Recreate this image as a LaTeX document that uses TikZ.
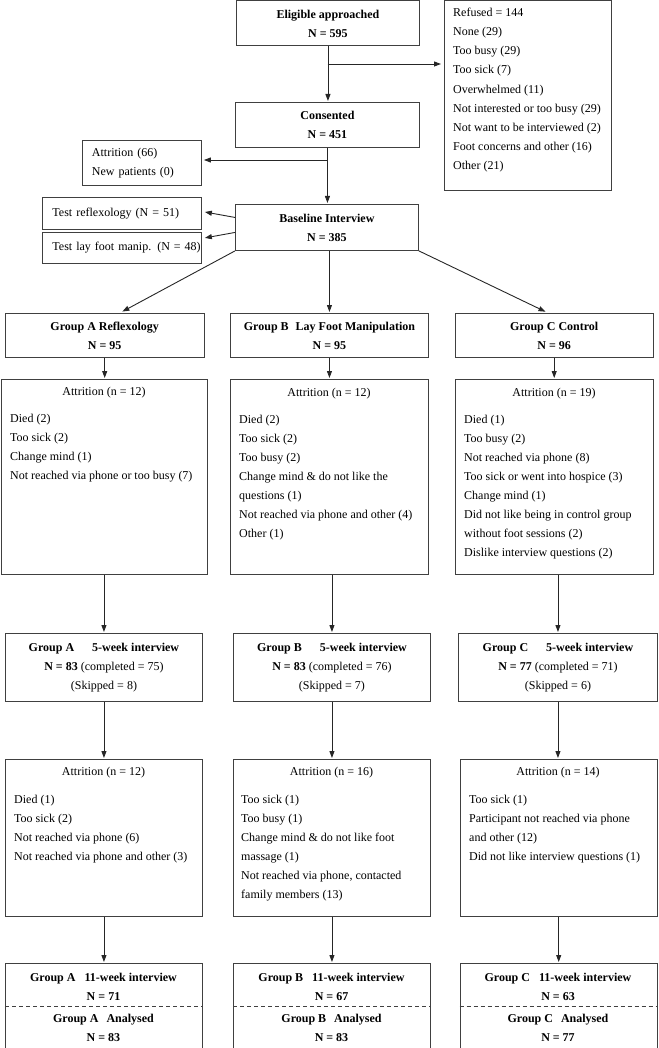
\documentclass[tikz,border=0pt]{standalone}
\usepackage{fontspec}
\setmainfont{Liberation Serif}
\usetikzlibrary{arrows.meta}

\begin{document}
\fontsize{12}{19}\selectfont
\begin{tikzpicture}[x=1pt, y=-1pt,
	box/.style={draw=black!75, line width=0.9pt, rectangle, inner sep=0pt, anchor=north west},
	hbox/.style={box, align=center, font=\bfseries},
	lst/.style={anchor=base west, inner sep=0pt},
	ttl/.style={anchor=base, inner sep=0pt},
	bt/.style={align=center, font=\bfseries, inner sep=0pt},
	arr/.style={draw=black!85, line width=0.9pt, -{Triangle[length=7pt,width=5pt]}, shorten >=1pt}]

	\useasboundingbox (0,0) rectangle (658,1048);
	\clip (0,0) rectangle (658,1048);

	% enrolment
	\node[hbox, minimum width=183, minimum height=45] (elig) at (236,0.5) {Eligible approached\\N = 595};
	\node[box, minimum width=167, minimum height=189.5] (refused) at (444,0.5) {};
	\foreach \t [count=\i from 0] in {Refused = 144, None (29), Too busy (29), Too sick (7), Overwhelmed (11),
		Not interested or too busy (29), Not want to be interviewed (2), Foot concerns and other (16), Other (21)}
		\node[lst] (rf\i) at (453,16.7+19.1*\i) {\t};

	\node[hbox, minimum width=184, minimum height=45] (cons) at (235,102) {Consented\\N = 451};
	\node[box, minimum height=45, text width=100, inner xsep=9.5pt, align=left] (attr0) at (82,140) {Attrition (66)\\New patients (0)};

	\node[hbox, minimum width=183, minimum height=46] (base) at (235,204) {Baseline Interview\\N = 385};
	\node[box, minimum height=32, text width=139, inner xsep=10pt, align=left] (testR) at (42,197) {Test reflexology (N = 51)};
	\node[box, minimum height=31, text width=139, inner xsep=10pt, align=left] (testL) at (42,232) {\mbox{Test lay foot manip. (N = 48)}};

	\coordinate (br1) at (327.5,64);
	\coordinate (br2) at (327,160);
	\draw[arr] (elig.south) -- (elig.south |- cons.north);
	\draw[arr, shorten >=3pt] (br1) -- (br1 -| refused.west);
	\draw[arr] (cons.south) -- (cons.south |- base.north);
	\draw[arr, shorten >=2pt] (br2) -- (br2 -| attr0.east);
	\draw[arr, shorten >=3pt] ([yshift=10pt]base.west) -- ([yshift=2pt]testR.east);
	\draw[arr, shorten >=3pt] ([yshift=-5pt]base.west) -- ([yshift=9.5pt]testL.east);

	% groups
	\node[hbox, minimum width=198.5, minimum height=44] (grpA) at (5,313) {Group A Reflexology\\N = 95};
	\node[hbox, minimum width=198, minimum height=44] (grpB) at (230,313) {Group B\hspace{7pt}Lay Foot Manipulation\\N = 95};
	\node[hbox, minimum width=198.5, minimum height=44] (grpC) at (454.5,313) {Group C Control\\N = 96};

	\draw[arr, shorten >=3pt] (base.south west) -- ([xshift=15pt]grpA.north);
	\draw[arr] (grpB.north |- base.south) -- (grpB.north);
	\draw[arr, shorten >=3pt] (base.south east) -- ([xshift=-6pt]grpC.north);

	% first attrition
	\node[box, minimum width=206, minimum height=195] (attA) at (1,379) {};
	\node[box, minimum width=198, minimum height=195] (attB) at (230,379) {};
	\node[box, minimum width=198, minimum height=195] (attC) at (455,379) {};
	\node[ttl] (attAh) at (104,395) {Attrition (n = 12)};
	\node[ttl] (attBh) at (329,396) {Attrition (n = 12)};
	\node[ttl] (attCh) at (554,396) {Attrition (n = 19)};
	\foreach \t [count=\i from 0] in {Died (2), Too sick (2), Change mind (1), Not reached via phone or too busy (7)}
		\node[lst] (aa\i) at (10,422+19.1*\i) {\t};
	\foreach \t [count=\i from 0] in {Died (2), Too sick (2), Too busy (2), Change mind \& do not like the,
		questions (1), Not reached via phone and other (4), Other (1)}
		\node[lst] (ab\i) at (239,423+19.1*\i) {\t};
	\foreach \t [count=\i from 0] in {Died (1), Too busy (2), Not reached via phone (8), Too sick or went into hospice (3),
		Change mind (1), Did not like being in control group, without foot sessions (2), Dislike interview questions (2)}
		\node[lst] (ac\i) at (464,423+19.1*\i) {\t};

	% 5-week
	\node[box, minimum width=197, minimum height=68, align=center] (wkA) at (5,633)
		{\textbf{Group A}\hspace{18pt}\textbf{5-week interview}\\\textbf{N = 83} (completed = 75)\\(Skipped = 8)};
	\node[box, minimum width=197, minimum height=68, align=center] (wkB) at (233,633)
		{\textbf{Group B}\hspace{18pt}\textbf{5-week interview}\\\textbf{N = 83} (completed = 76)\\(Skipped = 7)};
	\node[box, minimum width=199, minimum height=68, align=center] (wkC) at (458,633)
		{\textbf{Group C}\hspace{18pt}\textbf{5-week interview}\\\textbf{N = 77} (completed = 71)\\(Skipped = 6)};

	% second attrition
	\node[box, minimum width=197, minimum height=157] (atbA) at (5,759) {};
	\node[box, minimum width=197, minimum height=157] (atbB) at (233,759) {};
	\node[box, minimum width=197.5, minimum height=157] (atbC) at (459.5,759) {};
	\node[ttl] (atbAh) at (103.5,775) {Attrition (n = 12)};
	\node[ttl] (atbBh) at (331.5,775) {Attrition (n = 16)};
	\node[ttl] (atbCh) at (558,775) {Attrition (n = 14)};
	\foreach \t [count=\i from 0] in {Died (1), Too sick (2), Not reached via phone (6), Not reached via phone and other (3)}
		\node[lst] (ba\i) at (14,803+19.1*\i) {\t};
	\foreach \t [count=\i from 0] in {Too sick (1), Too busy (1), Change mind \& do not like foot, massage (1),
		{Not reached via phone, contacted}, family members (13)}
		\node[lst] (bb\i) at (241,803+19.1*\i) {\t};
	\foreach \t [count=\i from 0] in {Too sick (1), Participant not reached via phone, and other (12), Did not like interview questions (1)}
		\node[lst] (bc\i) at (469,803+19.1*\i) {\t};

	% 11-week and analysed
	\node[box, minimum width=197, minimum height=100] (fnA) at (5,963) {};
	\node[box, minimum width=197, minimum height=100] (fnB) at (233,963) {};
	\node[box, minimum width=197.5, minimum height=100] (fnC) at (459.5,963) {};
	\node[bt] (fnAt) at (103.5,986.5) {Group A\hspace{9pt}11-week interview\\N = 71};
	\node[bt] (fnBt) at (331.5,986.5) {Group B\hspace{9pt}11-week interview\\N = 67};
	\node[bt] (fnCt) at (558,986.5) {Group C\hspace{9pt}11-week interview\\N = 63};
	\node[bt] (anA) at (103.5,1028) {Group A\hspace{8pt}Analysed\\N = 83};
	\node[bt] (anB) at (331.5,1028) {Group B\hspace{8pt}Analysed\\N = 83};
	\node[bt] (anC) at (558,1028) {Group C\hspace{8pt}Analysed\\N = 77};

	\foreach \g in {A,B,C} {
		\draw[draw=black!75, line width=0.9pt, dash pattern=on 4pt off 3pt]
			([yshift=-43pt]fn\g.north west) -- ([yshift=-43pt]fn\g.north east);
		\draw[arr] (grp\g.south) -- (grp\g.south |- att\g.north);
		\draw[arr] (wk\g.north |- att\g.south) -- (wk\g.north);
		\draw[arr] (wk\g.south) -- (wk\g.south |- atb\g.north);
		\draw[arr] (atb\g.south) -- (atb\g.south |- fn\g.north);
	}
\end{tikzpicture}
\end{document}
